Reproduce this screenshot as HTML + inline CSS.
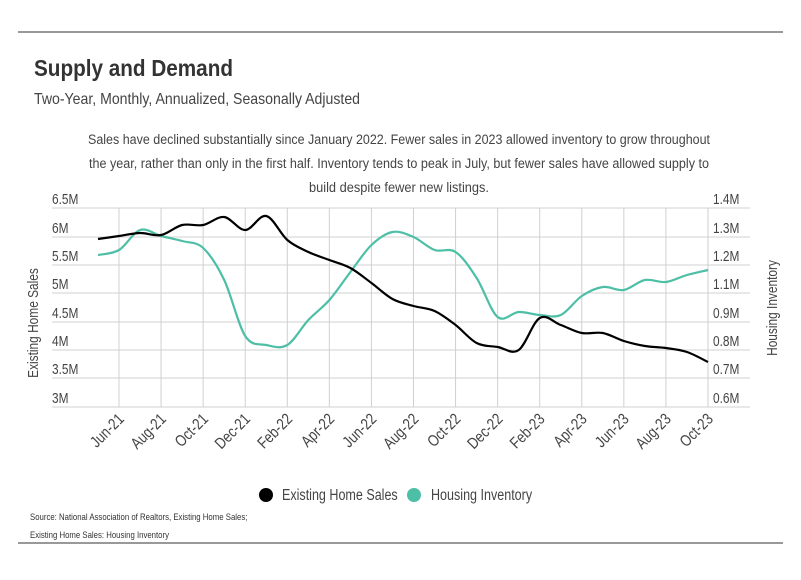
<!DOCTYPE html>
<html><head><meta charset="utf-8"><style>
body{margin:0;background:#fff;width:801px;height:575px;overflow:hidden;font-family:"Liberation Sans Narrow","Liberation Sans",sans-serif;}
svg text{font-family:"Liberation Sans Narrow","Liberation Sans",sans-serif;fill:#444}
</style></head><body>
<svg id="s" width="801" height="575" xmlns="http://www.w3.org/2000/svg">
<line x1="18" y1="32" x2="783" y2="32" stroke="#333" stroke-width="1"/>
<line x1="18" y1="543" x2="783" y2="543" stroke="#333" stroke-width="1"/>
<text x="34" y="76" style="font-size:23px;font-weight:bold;fill:#333" textLength="199" lengthAdjust="spacingAndGlyphs">Supply and Demand</text>
<text x="34" y="104" style="font-size:16px;fill:#444" textLength="326" lengthAdjust="spacingAndGlyphs">Two-Year, Monthly, Annualized, Seasonally Adjusted</text>
<g style="font-size:13.5px" text-anchor="middle">
<text x="399" y="144" textLength="622" lengthAdjust="spacingAndGlyphs">Sales have declined substantially since January 2022. Fewer sales in 2023 allowed inventory to grow throughout</text>
<text x="399" y="168" textLength="620" lengthAdjust="spacingAndGlyphs">the year, rather than only in the first half. Inventory tends to peak in July, but fewer sales have allowed supply to</text>
<text x="399" y="192" textLength="180" lengthAdjust="spacingAndGlyphs">build despite fewer new listings.</text>
</g>
<g id="grid" stroke="#d0d0d0" stroke-width="1"></g>
<g id="labels" style="font-size:14.5px"></g>
<g id="xl" style="font-size:16px"></g>
<text class="c" transform="translate(38,323) rotate(-90)" text-anchor="middle" style="font-size:14.5px">Existing Home Sales</text>
<text class="c" transform="translate(777,308) rotate(-90)" text-anchor="middle" style="font-size:14.5px">Housing Inventory</text>
<path id="teal" fill="none" stroke="#4dbfa6" stroke-width="2.2"/>
<path id="blk" fill="none" stroke="#000" stroke-width="2.2"/>
<circle cx="266" cy="495" r="7" fill="#000"/>
<text class="c" x="282" y="500" style="font-size:15.3px">Existing Home Sales</text>
<circle cx="414" cy="495" r="7" fill="#4dbfa6"/>
<text class="c" x="431" y="500" style="font-size:15.3px">Housing Inventory</text>
<text class="c" x="30" y="520" style="font-size:9.5px;fill:#333">Source:  National Association of Realtors, Existing Home Sales;</text>
<text class="c" x="30" y="538" style="font-size:9.5px;fill:#333">Existing Home Sales: Housing Inventory</text>
</svg>
<script>
var NS="http://www.w3.org/2000/svg";
function el(t,a,p,txt){var e=document.createElementNS(NS,t);for(var k in a)e.setAttribute(k,a[k]);if(txt)e.textContent=txt;document.getElementById(p).appendChild(e);return e;}
var ys=[208,237,265,293,322,350,378,407];
var L=["6.5M","6M","5.5M","5M","4.5M","4M","3.5M","3M"],R=["1.4M","1.3M","1.2M","1.1M","0.9M","0.8M","0.7M","0.6M"];
ys.forEach(function(y,i){el("line",{x1:52,x2:750,y1:y,y2:y},"grid");
el("text",{x:52,y:y-4,"class":"c"},"labels",L[i]);el("text",{x:713,y:y-4,"class":"c"},"labels",R[i]);});
var mons=["Jun-21","Aug-21","Oct-21","Dec-21","Feb-22","Apr-22","Jun-22","Aug-22","Oct-22","Dec-22","Feb-23","Apr-23","Jun-23","Aug-23","Oct-23"];
mons.forEach(function(m,i){var x=119+i*42.07;el("line",{x1:x,x2:x,y1:208,y2:407},"grid");
el("text",{x:x+6,y:420,"class":"c","text-anchor":"end",transform:"rotate(-45 "+(x+6)+" 420)"},"xl",m);});
var b=[239,236,233,235,225,225,217,230,216,240,252,260,268,283,299,306,311,325,343,347,350,318,325,333,333,341,346,348,352,362];
var t=[255,250,230,236,241,248,280,336,345,345,320,300,272,245,232,237,250,252,278,317,312,315,315,296,287,290,280,282,275,270];
function path(v){var p=v.map(function(y,i){return [98+i*21.035,y]});var d="M"+p[0][0]+","+p[0][1];
for(var i=0;i<p.length-1;i++){var p0=p[i-1]||p[i],p1=p[i],p2=p[i+1],p3=p[i+2]||p2;
d+=" C"+(p1[0]+(p2[0]-p0[0])/6)+","+(p1[1]+(p2[1]-p0[1])/6)+" "+(p2[0]-(p3[0]-p1[0])/6)+","+(p2[1]-(p3[1]-p1[1])/6)+" "+p2[0]+","+p2[1];}return d;}
document.getElementById("blk").setAttribute("d",path(b));
document.getElementById("teal").setAttribute("d",path(t));
var cs=document.querySelectorAll("text.c");
for(var i=0;i<cs.length;i++){var w=cs[i].getComputedTextLength();cs[i].setAttribute("textLength",(w*0.82).toFixed(1));cs[i].setAttribute("lengthAdjust","spacingAndGlyphs");}
</script>
</body></html>
